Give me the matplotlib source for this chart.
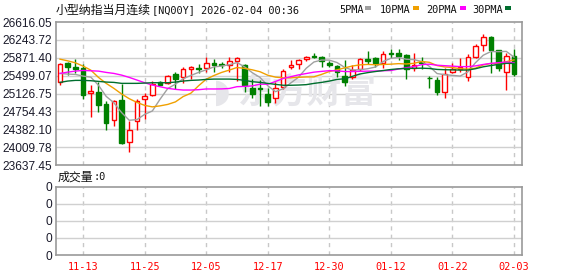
import matplotlib
matplotlib.use('Agg')
import matplotlib.pyplot as plt
import numpy as np
import pandas as pd
from matplotlib.patches import Rectangle

# ---------------- data ----------------
opens = [25358, 25766, 25676, 25648, 25137, 25165, 24909, 24570, 24992, 24114,
         24550, 25006, 25103, 25365, 25338, 25531, 25462, 25635, 25648, 25662,
         25759, 25731, 25725, 25814, 25725, 25234, 25248, 25117, 25027, 25255,
         25683, 25738, 25835, 25918, 25891, 25766, 25697, 25489, 25462, 25628,
         25835, 25863, 25752, 25966, 25966, 25925, 25648, 25773, 25455, 25407,
         25165, 25566, 25635, 25462, 25891, 26146, 26298, 26029, 25566, 25904]
highs = [25766, 25773, 25842, 25745, 25303, 25372, 24971, 24992, 25317, 24563,
         25006, 25137, 25379, 25379, 25517, 25566, 25669, 25690, 25731, 25877,
         25842, 25773, 25877, 25877, 25745, 25420, 25400, 25234, 25358, 25628,
         25821, 25842, 25904, 25960, 25904, 25794, 25725, 25821, 25711, 25870,
         26015, 25877, 26015, 26049, 26056, 25953, 25960, 25897, 25489, 25462,
         25648, 25752, 25863, 25946, 26153, 26374, 26319, 26043, 25960, 26049]
lows = [25296, 25510, 25545, 25020, 24646, 24750, 24370, 24460, 24080, 23900,
        24370, 24598, 25082, 25303, 25317, 25220, 25351, 25420, 25545, 25566,
        25566, 25662, 25566, 25386, 25151, 25040, 24867, 24874, 24923, 25220,
        25642, 25628, 25814, 25856, 25669, 25683, 25462, 25282, 25434, 25593,
        25745, 25683, 25662, 25863, 25828, 25427, 25586, 25628, 25248, 25103,
        25040, 25545, 25573, 25393, 25863, 26015, 25559, 25600, 25206, 25496]
closes = [25738, 25683, 25635, 25103, 25179, 24895, 24522, 24971, 24087, 24370,
          24964, 25068, 25324, 25310, 25483, 25420, 25628, 25669, 25628, 25752,
          25725, 25717, 25808, 25856, 25296, 25117, 25227, 24950, 25234, 25600,
          25725, 25821, 25884, 25884, 25808, 25711, 25572, 25372, 25614, 25842,
          25814, 25752, 25946, 25946, 25918, 25642, 25711, 25752, 25441, 25165,
          25524, 25642, 25676, 25877, 26125, 26298, 26029, 25662, 25904, 25531]

# moving-average values at the start of the window (history not shown)
ma5_head = [25545, 25531, 25524, 25489]
ma10_head = [25842, 25807, 25766, 25697, 25614, 25462, 25338, 25234, 25117]
ma20_head = [25545, 25572, 25593, 25607, 25600, 25593, 25566, 25545, 25510, 25462,
             25407, 25351, 25303, 25268, 25234, 25213, 25199, 25199, 25206]
ma30_head = [25358, 25386, 25400, 25400, 25393, 25379, 25365, 25358, 25338, 25338,
             25338, 25344, 25351, 25351, 25351, 25365, 25386, 25400, 25407, 25420,
             25427, 25427, 25427, 25420, 25400, 25372, 25358, 25338, 25317]

y_levels = [23637.45, 24009.78, 24382.10, 24754.43, 25126.75,
            25499.07, 25871.40, 26243.72, 26616.05]
date_idx = [3, 11, 19, 27, 35, 43, 51, 59]
date_labels = ['11-13', '11-25', '12-05', '12-17', '12-30', '01-12', '01-22', '02-03']

title_cn = '小型纳指当月连续'
title_rest = '[NQ00Y] 2026-02-04 00:36'
ma_names = ['5PMA', '10PMA', '20PMA', '30PMA']
ma_colors = ['#a0a0a0', '#f0a000', '#ff00ff', '#006e2e']

# ---------------- figure ----------------
W, H = 578, 276
fig = plt.figure(figsize=(W / 100, H / 100), dpi=100)
fig.patch.set_facecolor('white')

def fx(px):
    return px / W

def fy(py):
    return 1 - py / H

CJK = ['Noto Sans CJK SC', 'DejaVu Sans']
MONO = 'DejaVu Sans Mono'
NUM = 'Liberation Sans'

L_, R_ = 56, 522
ax = fig.add_axes([fx(L_), fy(165), (R_ - L_) / W, (165 - 22) / H])
axv = fig.add_axes([fx(L_), fy(255), (R_ - L_) / W, (255 - 186.7) / H])

n = len(closes)
x = np.arange(n)
o = np.array(opens, float)
c = np.array(closes, float)
hi = np.array(highs, float)
lo = np.array(lows, float)
up = c >= o
RED, GREEN = '#ff0000', '#008000'
cols = [RED if u else GREEN for u in up]

# grid
for a in (ax, axv):
    for s in a.spines.values():
        s.set_color('#999999')
        s.set_linewidth(1.2)
    for d in date_idx:
        a.axvline(d, color='#c8c8c8', lw=1, ls=(0, (3, 3)), zorder=0.5)
    a.set_xlim(-0.52, n + 0.04)

ax.set_ylim(y_levels[0], y_levels[-1])
ax.set_yticks(y_levels)
ax.set_yticklabels(['%.2f' % v for v in y_levels], fontfamily=NUM, fontsize=8.6,
                   color='#1a1a2a')
for v in y_levels[1:-1]:
    ax.axhline(v, color='#d0d0d0', lw=1, zorder=0.5)
ax.tick_params(axis='y', length=0, pad=3)
ax.set_xticks([])

# watermark
ax.text(fx(307), fy(92), '东方财富', transform=fig.transFigure, fontsize=25,
        fontweight='bold', color='#e6e6ea', ha='center', va='center',
        family=CJK, zorder=0.6)
ax.text(fx(222), fy(92), '◗', transform=fig.transFigure, fontsize=24,
        color='#e6e6ea', ha='center', va='center', family='DejaVu Sans', zorder=0.6)

# candles
ax.vlines(x, lo, hi, colors=cols, lw=1, zorder=2)
body_bottom = np.minimum(o, c)
body_h = np.maximum(np.abs(c - o), 1.0)
ax.bar(x, body_h, bottom=body_bottom, width=0.6,
       facecolor=['white' if u else GREEN for u in up],
       edgecolor=cols, linewidth=1, zorder=3)

# moving averages
cs = pd.Series(c)
heads = [ma5_head, ma10_head, ma20_head, ma30_head]
for per, head, col in zip([5, 10, 20, 30], heads, ma_colors):
    ma = cs.rolling(per).mean().to_numpy()
    ma[:len(head)] = head
    ax.plot(x, ma, color=col, lw=1, zorder=4)

# volume panel
axv.set_ylim(0, 4)
axv.set_yticks([0, 1, 2, 3, 4])
axv.set_yticklabels(['0'] * 5, fontfamily=NUM, fontsize=8.6, color='#1a1a2a')
for v in [1, 2, 3]:
    axv.axhline(v, color='#d0d0d0', lw=1, zorder=0.5)
axv.tick_params(axis='y', length=0, pad=3)
axv.set_xticks(date_idx)
axv.set_xticklabels(date_labels, fontfamily=MONO, fontsize=7.4, color=RED)
axv.tick_params(axis='x', length=0, pad=5)

# title & legend
fig.text(fx(56), fy(10), title_cn, fontsize=8.6, family=CJK, va='center', ha='left',
         color='#111111')
fig.text(fx(152), fy(10), title_rest, fontsize=7.4, family=MONO, va='center',
         ha='left', color='#111111')
leg_x = [339, 380, 426, 472]
sq_x = [365, 413, 460, 505]
for name, lx, sx, col in zip(ma_names, leg_x, sq_x, ma_colors):
    fig.text(fx(lx), fy(10), name, fontsize=7.4, family=MONO, va='center', ha='left',
             color='#111111')
    fig.patches.append(Rectangle((fx(sx), fy(9.5)), 5.5 / W, 3.2 / H,
                                 transform=fig.transFigure, facecolor=col,
                                 edgecolor='none'))

fig.text(fx(58), fy(177), '成交量', fontsize=8.6, family=CJK, va='center', ha='left',
         color='#111111')
fig.text(fx(94), fy(177), ':0', fontsize=7.4, family=MONO, va='center', ha='left',
         color='#111111')

fig.savefig('out.png', dpi=100)
